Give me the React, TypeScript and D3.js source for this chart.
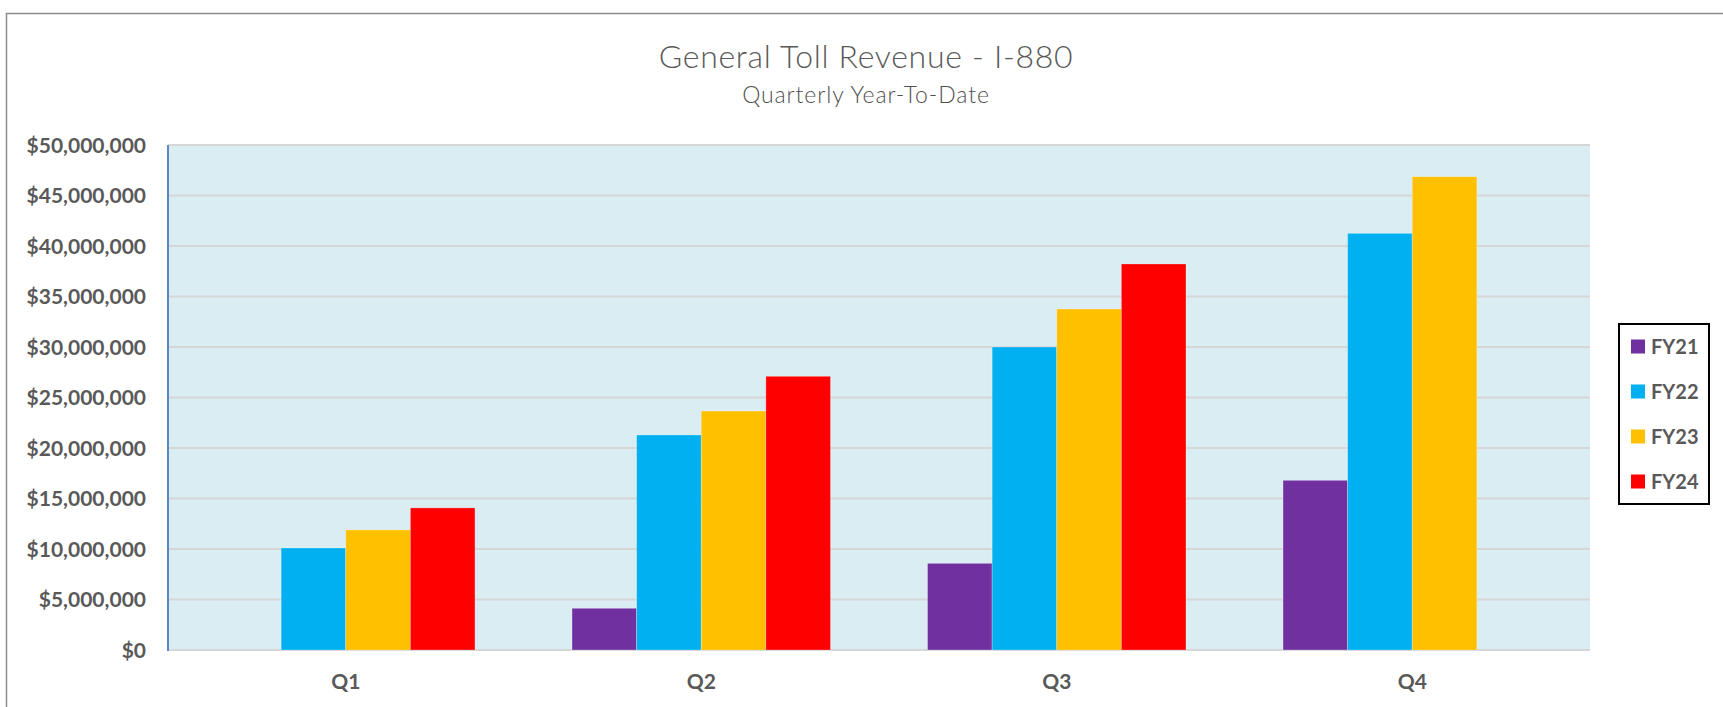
import * as React from "react";
import * as d3 from "d3";

const categories = ["Q1", "Q2", "Q3", "Q4"];
const seriesNames = ["FY21", "FY22", "FY23", "FY24"];
const fy21 = [null, 4130000, 8580000, 16800000];
const fy22 = [10100000, 21290000, 30000000, 41250000];
const fy23 = [11890000, 23660000, 33760000, 46860000];
const fy24 = [14070000, 27100000, 38220000, null];
const yTicks = [0, 5000000, 10000000, 15000000, 20000000, 25000000, 30000000, 35000000, 40000000, 45000000, 50000000];
const colors = ["#7030A0", "#00B0F0", "#FFC000", "#FF0000"];

const W = 1723;
const H = 707;
const FONT = "Lato, 'Open Sans', sans-serif";
const TEXT = "#595959";

export default function App() {
  const series = [fy21, fy22, fy23, fy24];
  const left = 168, right = 1590, top = 145, bottom = 650;

  const x0 = d3.scaleBand().domain(categories).range([left, right])
    .paddingInner(0.273).paddingOuter(0.1365);
  const x1 = d3.scaleBand().domain(seriesNames).range([0, x0.bandwidth()]);
  const y = d3.scaleLinear().domain([0, 50000000]).range([bottom, top]);
  const fmt = d3.format("$,.0f");
  const legendY = d3.scaleBand().domain(seriesNames).range([324, 504]);

  React.useEffect(() => {
    document.body.style.margin = "0";
  }, []);

  return (
    <svg width={W} height={H} style={{ display: "block", overflow: "hidden" }}>
      <rect x={0} y={0} width={W} height={H} fill="#ffffff" />
      {/* outer chart border, cut off on the right and bottom */}
      <rect x={6.5} y={13.5} width={W + 20} height={H + 20} fill="none" stroke="#8c8c8c" strokeWidth={1.5} />

      <text x={866} y={68} textAnchor="middle" fontFamily={FONT} fontWeight={300}
        fontSize={32} letterSpacing={0.7} fill={TEXT}>General Toll Revenue - I-880</text>
      <text x={866} y={103} textAnchor="middle" fontFamily={FONT} fontWeight={300}
        fontSize={23} letterSpacing={0.9} fill="#505050">Quarterly Year-To-Date</text>

      {/* plot area */}
      <rect x={left} y={top} width={right - left} height={bottom - top} fill="#DAEDF3" />
      {yTicks.map((t) => (
        <line key={"g" + t} x1={left} x2={right} y1={y(t)} y2={y(t)} stroke="#D6D6D6" strokeWidth={2} />
      ))}
      {yTicks.map((t) => (
        <text key={"l" + t} x={146} y={y(t) + 7.5} textAnchor="end" fontFamily={FONT}
          fontWeight={700} fontSize={21} fill={TEXT}>{fmt(t)}</text>
      ))}

      {categories.map((c, ci) => (
        <g key={c} transform={`translate(${x0(c)},0)`}>
          {seriesNames.map((s, si) => {
            const v = series[si][ci];
            if (v == null) return null;
            return (
              <rect key={s} x={x1(s)} y={y(v)} width={x1.bandwidth()} height={y(0) - y(v)}
                fill={colors[si]} stroke="#ffffff" strokeOpacity={0.35} strokeWidth={0.8} />
            );
          })}
        </g>
      ))}

      <line x1={left} x2={left} y1={top} y2={bottom + 1} stroke="#5B87C6" strokeWidth={2} />

      {categories.map((c) => (
        <text key={c} x={x0(c) + x0.bandwidth() / 2} y={689} textAnchor="middle"
          fontFamily={FONT} fontWeight={700} fontSize={21} fill={TEXT}>{c}</text>
      ))}

      {/* legend */}
      <rect x={1619} y={324} width={90} height={180} fill="#ffffff" stroke="#000000" strokeWidth={2} />
      {seriesNames.map((s, si) => {
        const cy = legendY(s) + legendY.bandwidth() / 2;
        return (
          <g key={s}>
            <rect x={1631} y={cy - 7} width={14} height={14} fill={colors[si]} />
            <text x={1651} y={cy + 7} fontFamily={FONT} fontWeight={700} fontSize={20} fill={TEXT}>{s}</text>
          </g>
        );
      })}
    </svg>
  );
}
